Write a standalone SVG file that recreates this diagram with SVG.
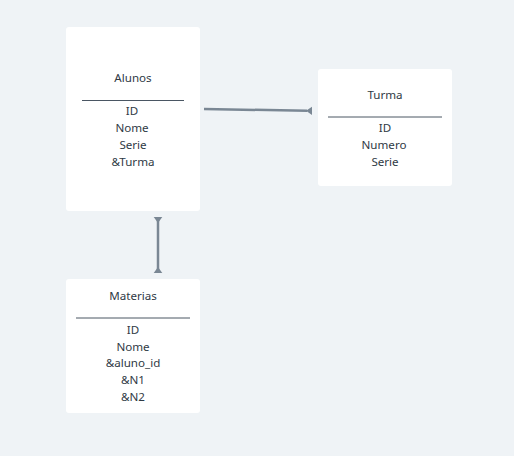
<svg xmlns="http://www.w3.org/2000/svg" width="514" height="456" viewBox="0 0 514 456">
<style>
.node{fill:#ffffff;}
.t{font-family:"Noto Sans","Open Sans","Liberation Sans",sans-serif;font-size:11.6px;fill:#2f3a45;text-anchor:middle;}
.sep{stroke:#4a5663;stroke-width:1;}
.conn{stroke:#7a8794;stroke-width:2.5;fill:none;}
.head{fill:#7a8794;}
</style>
<rect width="514" height="456" fill="#eff3f6"/>
<g id="connectors">
<line class="conn" x1="204" y1="109" x2="307" y2="110.8"/>
<polygon class="head" points="306,110.8 312,106.8 312,115"/>
<line class="conn" x1="158" y1="219" x2="158" y2="271"/>
<polygon class="head" points="153.7,217 162.3,217 158,223"/>
<polygon class="head" points="153.7,273 162.3,273 158,267"/>
</g>
<g id="alunos">
<rect class="node" x="66" y="27" width="134" height="184" rx="3"/>
<text class="t" x="133" y="82">Alunos</text>
<line class="sep" x1="82" y1="100.5" x2="184" y2="100.5"/>
<text class="t" x="132" y="115">ID</text>
<text class="t" x="132" y="132">Nome</text>
<text class="t" x="133" y="149">Serie</text>
<text class="t" x="133" y="166">&amp;Turma</text>
</g>
<g id="turma">
<rect class="node" x="318" y="69" width="134" height="117" rx="3"/>
<text class="t" x="385" y="99">Turma</text>
<line class="sep" x1="328" y1="117" x2="442" y2="117"/>
<text class="t" x="385" y="132">ID</text>
<text class="t" x="384" y="149">Numero</text>
<text class="t" x="385" y="166">Serie</text>
</g>
<g id="materias">
<rect class="node" x="66" y="279" width="134" height="134" rx="3"/>
<text class="t" x="133" y="300">Materias</text>
<line class="sep" x1="76" y1="318" x2="190" y2="318"/>
<text class="t" x="133" y="334">ID</text>
<text class="t" x="133" y="351">Nome</text>
<text class="t" x="133" y="367">&amp;aluno_id</text>
<text class="t" x="133" y="384">&amp;N1</text>
<text class="t" x="133" y="401">&amp;N2</text>
</g>
</svg>
